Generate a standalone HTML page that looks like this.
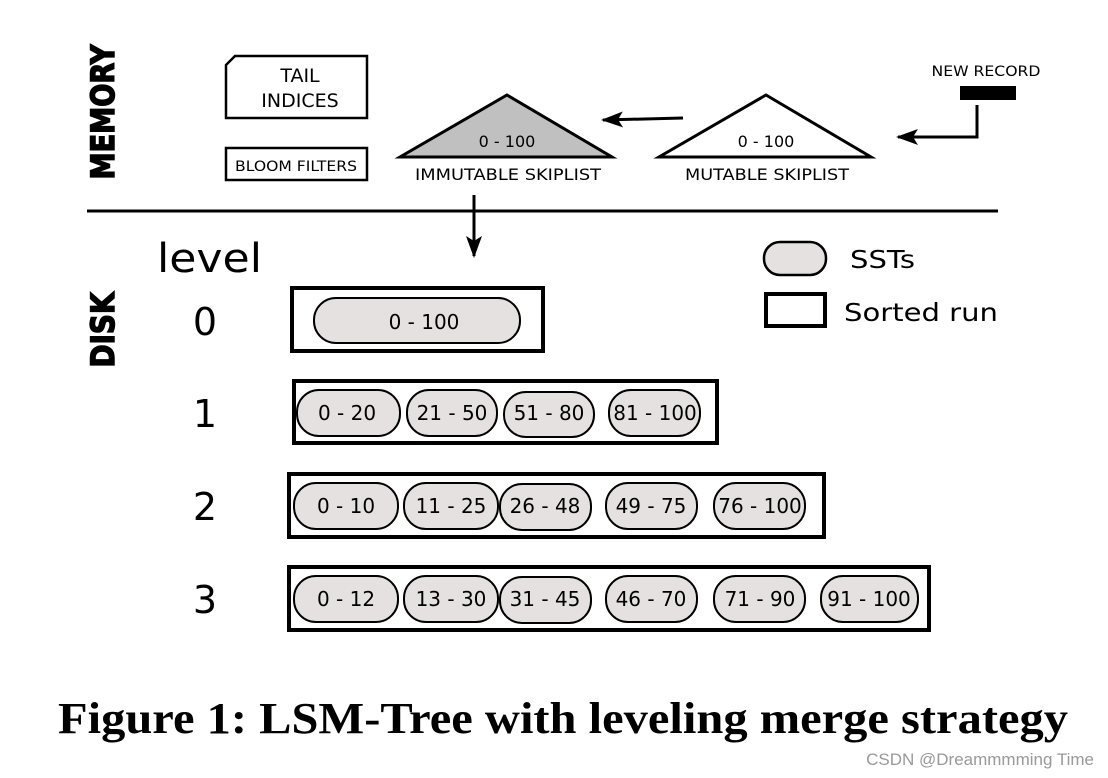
<!DOCTYPE html>
<html><head><meta charset="utf-8"><style>
body{margin:0;background:#fff;}
svg{display:block}
</style></head><body>
<svg width="1108" height="778" viewBox="0 0 1108 778" xmlns="http://www.w3.org/2000/svg" font-family="DejaVu Sans, Liberation Sans, sans-serif">
<defs>
<marker id="ah2" markerWidth="22" markerHeight="16" refX="20" refY="8" orient="auto" markerUnits="userSpaceOnUse"><path d="M0,0 L22,8 L0,16 L5,8 z" fill="#000"/></marker></defs>
<text transform="translate(114,112) rotate(-90)" text-anchor="middle" font-size="32" font-weight="bold" font-family="DejaVu Sans, sans-serif" stroke="#000" stroke-width="1.5" textLength="135" lengthAdjust="spacingAndGlyphs">MEMORY</text>
<text transform="translate(114,330) rotate(-90)" text-anchor="middle" font-size="32" font-weight="bold" font-family="DejaVu Sans, sans-serif" stroke="#000" stroke-width="1.5" textLength="75" lengthAdjust="spacingAndGlyphs">DISK</text>
<path d="M226,65 L235,56 L367,56 L367,118 L226,118 Z" fill="#fff" stroke="#000" stroke-width="2.5"/>
<text x="300" y="82" text-anchor="middle" font-size="19">TAIL</text>
<text x="300" y="107" text-anchor="middle" font-size="19">INDICES</text>
<rect x="226" y="148" width="141" height="32" fill="#fff" stroke="#000" stroke-width="2.5"/>
<text x="296" y="171" text-anchor="middle" font-size="14" textLength="122" lengthAdjust="spacingAndGlyphs">BLOOM FILTERS</text>
<polygon points="507,95 612,157 400,157" fill="#c0c0c0" stroke="#000" stroke-width="3"/>
<text x="507" y="147" text-anchor="middle" font-size="16">0 - 100</text>
<text x="508" y="180" text-anchor="middle" font-size="16" textLength="186" lengthAdjust="spacingAndGlyphs">IMMUTABLE SKIPLIST</text>
<polygon points="766,95 871,157 659,157" fill="#fff" stroke="#000" stroke-width="3"/>
<text x="766" y="147" text-anchor="middle" font-size="16">0 - 100</text>
<text x="767" y="180" text-anchor="middle" font-size="16" textLength="164" lengthAdjust="spacingAndGlyphs">MUTABLE SKIPLIST</text>
<line x1="683" y1="118" x2="603" y2="120" stroke="#000" stroke-width="3" marker-end="url(#ah2)"/>
<polyline points="977,105 977,137 898,137" fill="none" stroke="#000" stroke-width="3" marker-end="url(#ah2)"/>
<rect x="960" y="86" width="56" height="14" fill="#000"/>
<text x="986" y="76" text-anchor="middle" font-size="14" textLength="109" lengthAdjust="spacingAndGlyphs">NEW RECORD</text>
<line x1="87" y1="211" x2="998" y2="211" stroke="#000" stroke-width="3"/>
<line x1="474" y1="195" x2="474" y2="256" stroke="#000" stroke-width="3" marker-end="url(#ah2)"/>
<text x="157" y="272" font-size="40" textLength="105" lengthAdjust="spacingAndGlyphs">level</text>
<g font-size="38" text-anchor="middle"><text x="205" y="335">0</text><text x="205" y="427">1</text><text x="205" y="520">2</text><text x="205" y="613">3</text></g>
<rect x="764" y="242" width="62" height="33" rx="16" fill="#e6e1e1" stroke="#000" stroke-width="2.5"/>
<text x="850" y="268" font-size="25" textLength="65" lengthAdjust="spacingAndGlyphs">SSTs</text>
<rect x="766" y="294" width="59" height="32" fill="#fff" stroke="#000" stroke-width="4"/>
<text x="844" y="321" font-size="25" textLength="154" lengthAdjust="spacingAndGlyphs">Sorted run</text>
<g stroke="#000" stroke-width="4" fill="#fff">
<rect x="292" y="288" width="251" height="63"/>
<rect x="294" y="381" width="423" height="62"/>
<rect x="289" y="474" width="535" height="63"/>
<rect x="289" y="567" width="640" height="63"/>
</g>
<g stroke="#000" stroke-width="2" fill="#e6e1e1">
<rect x="314" y="298" width="206" height="45" rx="22"/>
<rect x="297" y="390" width="103" height="46" rx="22"/>
<rect x="407" y="390" width="90" height="46" rx="22"/>
<rect x="504" y="392" width="90" height="45" rx="22"/>
<rect x="609" y="390" width="91" height="46" rx="22"/>
<rect x="294" y="483" width="104" height="46" rx="22"/>
<rect x="404" y="483" width="94" height="46" rx="22"/>
<rect x="500" y="484" width="91" height="46" rx="22"/>
<rect x="606" y="483" width="91" height="46" rx="22"/>
<rect x="714" y="483" width="91" height="46" rx="22"/>
<rect x="294" y="576" width="104" height="46" rx="22"/>
<rect x="404" y="576" width="94" height="46" rx="22"/>
<rect x="500" y="577" width="91" height="46" rx="22"/>
<rect x="606" y="576" width="91" height="46" rx="22"/>
<rect x="714" y="576" width="91" height="46" rx="22"/>
<rect x="821" y="576" width="97" height="46" rx="22"/>
</g>
<g font-size="20" text-anchor="middle">
<text x="424" y="329">0 - 100</text>
<text x="347" y="420">0 - 20</text><text x="452" y="420">21 - 50</text><text x="549" y="420">51 - 80</text><text x="655" y="420">81 - 100</text>
<text x="346" y="513">0 - 10</text><text x="451" y="513">11 - 25</text><text x="545" y="513">26 - 48</text><text x="651" y="513">49 - 75</text><text x="760" y="513">76 - 100</text>
<text x="346" y="606">0 - 12</text><text x="451" y="606">13 - 30</text><text x="545" y="606">31 - 45</text><text x="651" y="606">46 - 70</text><text x="760" y="606">71 - 90</text><text x="869" y="606">91 - 100</text>
</g>
<text x="58" y="733" font-family="Liberation Serif, serif" font-weight="bold" font-size="44" textLength="1010" lengthAdjust="spacingAndGlyphs">Figure 1: LSM-Tree with leveling merge strategy</text>
<text x="1094" y="765" text-anchor="end" font-family="Liberation Sans, sans-serif" font-size="17" fill="#999">CSDN @Dreammmming Time</text>
</svg>
</body></html>
